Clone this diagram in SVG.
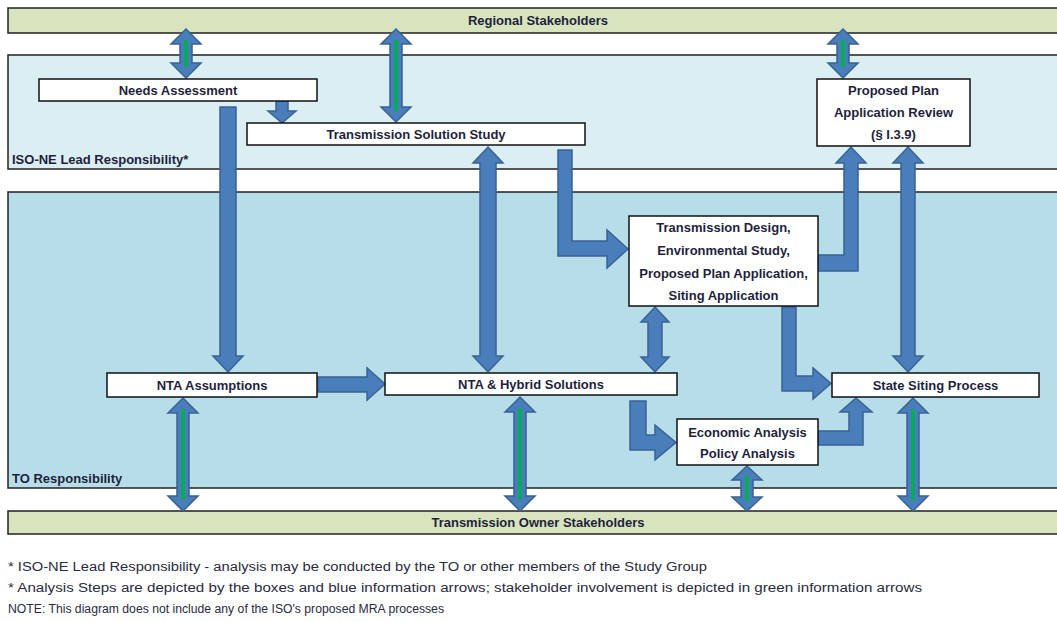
<svg xmlns="http://www.w3.org/2000/svg" width="1057" height="622" viewBox="0 0 1057 622">
<style>
.band{stroke:#222;stroke-width:1.5}
.green{fill:#d7e4bd}
.iso{fill:#dbeef4}
.to{fill:#b7dee8}
.box{fill:#fff;stroke:#111;stroke-width:1.5}
.t{font-family:"Liberation Sans",Arial,sans-serif;font-weight:bold;font-size:13px;fill:#1f1f3d;text-anchor:middle}
.lbl{font-family:"Liberation Sans",Arial,sans-serif;font-weight:bold;font-size:13px;fill:#1f1f3d}
.fn{font-family:"Liberation Sans",Arial,sans-serif;font-size:12.5px;fill:#2a2a40}
.arr{fill:#4a7ebb;stroke:#3a6294;stroke-width:1.5;stroke-linejoin:miter}
.gl{stroke:#00b050;stroke-width:3.5}
</style>
<rect width="1057" height="622" fill="#fff"/>
<g id="bands">
<rect class="band green" x="8" y="8" width="1060" height="25"/>
<rect class="band iso" x="8" y="55" width="1060" height="114"/>
<rect class="band to" x="8" y="192" width="1060" height="296"/>
<rect class="band green" x="8" y="511" width="1060" height="23"/>
<text class="t" x="538" y="25">Regional Stakeholders</text>
<text class="t" x="538" y="527">Transmission Owner Stakeholders</text>
<text class="lbl" x="12" y="164">ISO-NE Lead Responsibility*</text>
<text class="lbl" x="12" y="483">TO Responsibility</text>
</g>
<g id="connectors">
<path class="arr" d="M186,29 L201,44 L192,44 L192,63 L201,63 L186,78 L171,63 L180,63 L180,44 L171,44 Z"/>
<line class="gl" x1="186" y1="40" x2="186" y2="67"/>
<path class="arr" d="M396,29 L411,44 L402,44 L402,107 L411,107 L396,122 L381,107 L390,107 L390,44 L381,44 Z"/>
<line class="gl" x1="396" y1="40" x2="396" y2="111"/>
<path class="arr" d="M843,29 L858,44 L849,44 L849,63 L858,63 L843,78 L828,63 L837,63 L837,44 L828,44 Z"/>
<line class="gl" x1="843" y1="40" x2="843" y2="67"/>
<path class="arr" d="M183,398 L198,413 L189,413 L189,496 L198,496 L183,511 L168,496 L177,496 L177,413 L168,413 Z"/>
<line class="gl" x1="183" y1="409" x2="183" y2="500"/>
<path class="arr" d="M520,397 L535,412 L526,412 L526,496 L535,496 L520,511 L505,496 L514,496 L514,412 L505,412 Z"/>
<line class="gl" x1="520" y1="408" x2="520" y2="500"/>
<path class="arr" d="M747,466 L762,480 L753,480 L753,497 L762,497 L747,511 L732,497 L741,497 L741,480 L732,480 Z"/>
<line class="gl" x1="747" y1="476" x2="747" y2="501"/>
<path class="arr" d="M913,398 L928,413 L919,413 L919,496 L928,496 L913,511 L898,496 L907,496 L907,413 L898,413 Z"/>
<line class="gl" x1="913" y1="409" x2="913" y2="500"/>
<path class="arr" d="M488,147 L503,163 L496,163 L496,356 L503,356 L488,372 L473,356 L480,356 L480,163 L473,163 Z"/>
<path class="arr" d="M908,147 L923,163 L915,163 L915,356 L923,356 L908,372 L893,356 L901,356 L901,163 L893,163 Z"/>
<path class="arr" d="M655,307 L669,322 L662,322 L662,357 L669,357 L655,372 L641,357 L648,357 L648,322 L641,322 Z"/>
<path class="arr" d="M220,107 L236,107 L236,356 L243,356 L228,372 L213,356 L220,356 Z"/>
<path class="arr" d="M276,101 L288,101 L288,111 L296,111 L282,123 L268,111 L276,111 Z"/>
<path class="arr" d="M558,150 L572,150 L572,241 L607,241 L607,230 L628,249 L607,268 L607,256 L558,256 Z"/>
<path class="arr" d="M818,255 L844,255 L844,163 L836,163 L851,147 L866,163 L858,163 L858,271 L818,271 Z"/>
<path class="arr" d="M782,307 L796,307 L796,376 L813,376 L813,368 L831,383.5 L813,399 L813,391 L782,391 Z"/>
<path class="arr" d="M630,401 L646,401 L646,435 L655,435 L655,425 L676,442.5 L655,460 L655,450 L630,450 Z"/>
<path class="arr" d="M818,431 L849,431 L849,412 L840,412 L856,398 L872,412 L863,412 L863,445 L818,445 Z"/>
<path class="arr" d="M318,377 L367,377 L367,368 L385,384 L367,400 L367,392 L318,392 Z"/>
</g>
<g id="needs">
<rect class="box" x="39" y="79" width="278" height="22"/>
<text class="t" x="178" y="95">Needs Assessment</text>
</g>
<g id="tss">
<rect class="box" x="247" y="123" width="338" height="22"/>
<text class="t" x="416" y="139">Transmission Solution Study</text>
</g>
<g id="ppar">
<rect class="box" x="817" y="79" width="153" height="67"/>
<text class="t" x="893.5" y="95">Proposed Plan</text>
<text class="t" x="893.5" y="117">Application Review</text>
<text class="t" x="893.5" y="139">(§ I.3.9)</text>
</g>
<g id="td">
<rect class="box" x="629" y="216" width="189" height="90"/>
<text class="t" x="723.5" y="232">Transmission Design,</text>
<text class="t" x="723.5" y="255">Environmental Study,</text>
<text class="t" x="723.5" y="278">Proposed Plan Application,</text>
<text class="t" x="723.5" y="300">Siting Application</text>
</g>
<g id="nta">
<rect class="box" x="107" y="373" width="210" height="24"/>
<text class="t" x="212" y="390">NTA Assumptions</text>
</g>
<g id="ntah">
<rect class="box" x="385" y="373" width="292" height="22"/>
<text class="t" x="531" y="389">NTA &amp; Hybrid Solutions</text>
</g>
<g id="ssp">
<rect class="box" x="832" y="373" width="207" height="24"/>
<text class="t" x="935.5" y="390">State Siting Process</text>
</g>
<g id="econ">
<rect class="box" x="677" y="419" width="141" height="46"/>
<text class="t" x="747.5" y="437">Economic Analysis</text>
<text class="t" x="747.5" y="458">Policy Analysis</text>
</g>
<g id="notes">
<text class="fn" x="8" y="571" textLength="699" lengthAdjust="spacingAndGlyphs">* ISO-NE Lead Responsibility - analysis may be conducted by the TO or other members of the Study Group</text>
<text class="fn" x="8" y="592" textLength="914" lengthAdjust="spacingAndGlyphs">* Analysis Steps are depicted by the boxes and blue information arrows; stakeholder involvement is depicted in green information arrows</text>
<text class="fn" x="8" y="613" textLength="436" lengthAdjust="spacingAndGlyphs">NOTE:  This diagram does not include any of the ISO's proposed MRA processes</text>
</g>
</svg>
